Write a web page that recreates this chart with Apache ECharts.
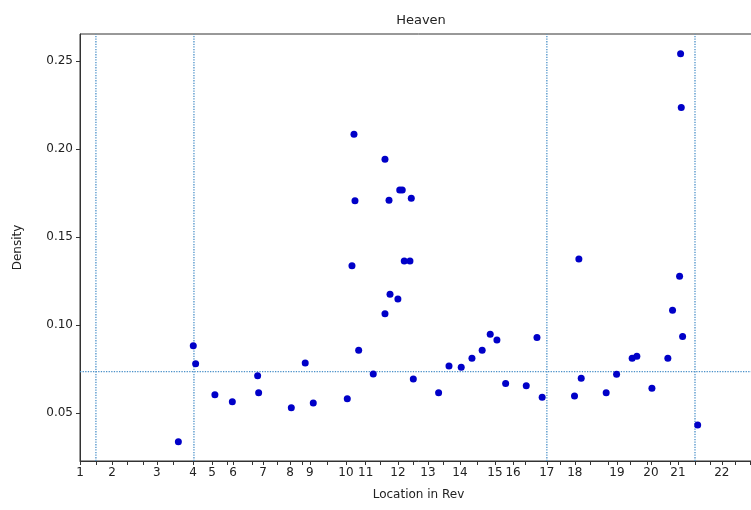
<!DOCTYPE html>
<html>
<head>
<meta charset="utf-8">
<script src="https://cdn.jsdelivr.net/npm/echarts@6/dist/echarts.min.js"></script>
<style>
  html, body { margin: 0; padding: 0; background: #fff; overflow: hidden; }
  #chart { width: 758px; height: 510px; }
</style>
</head>
<body>
<div id="chart"></div>
<script>
// chapter start positions along the book (x units)
const chapterLabels = ['1','2','3','4','5','6','7','8','9','10','11','12','13','14','15','16','17','18','19','20','21','22'];
const chapterPos = [0, 19.1, 45.9, 67.4, 78.8, 91.3, 109.2, 125.3, 137.2, 158.7, 170.5, 189.7, 207.6, 226.7, 247.6, 258.4, 278.6, 295.3, 320.4, 340.7, 356.8, 383];
// small unlabelled ticks on the x axis
const minorTicks = [9.5, 28, 37.6, 55.5, 87.7, 102.6, 117.5, 132.5, 147.4, 179, 198.7, 216.6, 236.9, 265.5, 286.4, 304.3, 315, 328.2, 338.3, 352, 367, 375.9, 390.8, 399.8];

// density points
const locX = [58.7, 67.6, 69.0, 80.5, 90.9, 106.0, 106.6, 126.1, 134.4, 139.2,
  159.5, 162.3, 164.1, 163.5, 166.3, 175.0, 182.0, 184.4, 190.8, 192.3,
  197.7, 182.0, 185.0, 189.7, 193.5, 196.9, 198.9, 214.0, 220.2, 227.5,
  233.9, 240.0, 244.8, 248.8, 254.0, 266.3, 272.7, 275.8, 295.1, 297.7,
  299.1, 314.0, 320.2, 329.5, 332.3, 341.3, 350.8, 353.6, 357.8, 359.6,
  368.6, 358.4, 358.8];
const density = [0.0337, 0.0882, 0.0780, 0.0604, 0.0564, 0.0712, 0.0615, 0.0530, 0.0784, 0.0557,
  0.0581, 0.1337, 0.1706, 0.2083, 0.0856, 0.0722, 0.1941, 0.1708, 0.1767, 0.1767,
  0.1720, 0.1063, 0.1174, 0.1148, 0.1364, 0.1364, 0.0693, 0.0615, 0.0767, 0.0760,
  0.0811, 0.0856, 0.0947, 0.0915, 0.0667, 0.0655, 0.0928, 0.0589, 0.0597, 0.1375,
  0.0697, 0.0615, 0.0720, 0.0811, 0.0822, 0.0640, 0.0811, 0.1083, 0.1277, 0.0934,
  0.0432, 0.2541, 0.2235];

// reference lines
const vLines = [9.5, 68, 278.6, 367];
const hLine = 0.0735;
const yTicks = [0.05, 0.10, 0.15, 0.20, 0.25];

const xMin = 0, xMax = 404;
const yMin = 0.0227, yMax = 0.2653;

const font = 'DejaVu Sans';
const refLine = { color: '#4a90c8', type: 'dotted', width: 1.3 };

const chart = echarts.init(document.getElementById('chart'));

const guideSeries = vLines.map(v => ({
  type: 'line',
  data: [[v, yMin], [v, yMax]],
  symbol: 'none',
  silent: true,
  lineStyle: refLine
})).concat([{
  type: 'line',
  data: [[xMin, hLine], [xMax, hLine]],
  symbol: 'none',
  silent: true,
  lineStyle: refLine
}]);

chart.setOption({
  animation: false,
  backgroundColor: '#fff',
  title: {
    text: 'Heaven',
    left: 416,
    top: 9,
    textAlign: 'center',
    textStyle: { fontFamily: font, fontSize: 13, fontWeight: 'normal', color: '#222' }
  },
  grid: {
    left: 80, top: 34, bottom: 49, right: 1,
    show: true, borderColor: '#333', borderWidth: 1
  },
  xAxis: {
    type: 'value',
    min: xMin, max: xMax,
    name: 'Location in Rev',
    nameLocation: 'middle',
    nameGap: 28,
    nameTextStyle: { fontFamily: font, fontSize: 12, color: '#222' },
    splitLine: { show: false },
    axisLine: { lineStyle: { color: '#333' } },
    axisTick: {
      customValues: chapterPos.concat(minorTicks),
      length: 4, lineStyle: { color: '#333' }
    },
    axisLabel: {
      customValues: chapterPos,
      margin: 6,
      fontFamily: font, fontSize: 12, color: '#222',
      formatter: v => {
        const i = chapterPos.indexOf(v);
        return i >= 0 ? chapterLabels[i] : '';
      }
    }
  },
  yAxis: {
    type: 'value',
    min: yMin, max: yMax,
    name: 'Density',
    nameLocation: 'middle',
    nameGap: 56,
    nameTextStyle: { fontFamily: font, fontSize: 12, color: '#222' },
    splitLine: { show: false },
    axisLine: { show: true, lineStyle: { color: '#333' } },
    axisTick: { show: true, customValues: yTicks, length: 4, lineStyle: { color: '#333' } },
    axisLabel: {
      customValues: yTicks,
      margin: 7,
      fontFamily: font, fontSize: 12, color: '#222',
      formatter: v => v.toFixed(2)
    }
  },
  series: guideSeries.concat([{
    type: 'scatter',
    data: locX.map((x, i) => [x, density[i]]),
    symbol: 'circle',
    symbolSize: 7,
    itemStyle: { color: '#0000c8', opacity: 1 },
    z: 5
  }])
});
</script>
</body>
</html>
